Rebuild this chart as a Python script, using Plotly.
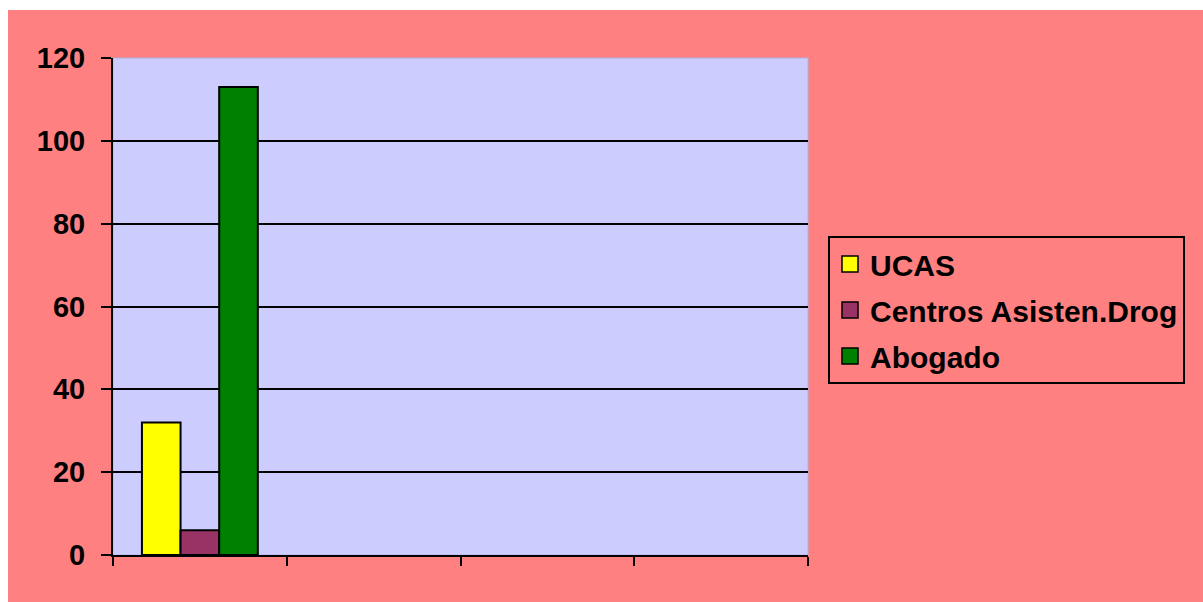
import plotly.graph_objects as go

categories = ["1", "2", "3", "4"]
series_names = ["UCAS", "Centros Asisten.Drog", "Abogado"]
ucas = [32, None, None, None]
centros = [6, None, None, None]
abogado = [113, None, None, None]
series_values = [ucas, centros, abogado]
series_colors = ["#FFFF00", "#993366", "#008000"]
y_ticks = [0, 20, 40, 60, 80, 100, 120]
grid_vals = [20, 40, 60, 80, 100]

W, H = 1203, 602
ML, MT = 113, 58
PLOT_R, PLOT_B = 808, 555
MR, MB = W - PLOT_R, H - PLOT_B
pw, ph = W - ML - MR, H - MT - MB

def px2x(p):
    return (p - ML) / pw

def px2y(p):
    return (H - MB - p) / ph

FONT = "Liberation Sans, Arial, sans-serif"

fig = go.Figure()
for name, vals, col in zip(series_names, series_values, series_colors):
    fig.add_trace(go.Bar(x=categories, y=vals, name=name, showlegend=False,
                         marker=dict(color=col, line=dict(color="black", width=2))))
for i, (name, col) in enumerate(zip(series_names, series_colors)):
    fig.add_trace(go.Scatter(x=[None], y=[None], mode="markers", name=name,
                             legendgroup=f"g{i}",
                             marker=dict(symbol="square", size=20, color=col,
                                         line=dict(color="black", width=1.5))))
# invisible trace on the overlay axis so its grid is drawn
fig.add_trace(go.Scatter(x=[None], y=[None], yaxis="y2", showlegend=False,
                         hoverinfo="skip"))

# white bands on the top and left edges
fig.add_shape(type="rect", xref="paper", yref="paper", layer="below",
              x0=px2x(-5), x1=px2x(W + 5), y0=px2y(10), y1=px2y(-5),
              fillcolor="white", line=dict(width=0))
fig.add_shape(type="rect", xref="paper", yref="paper", layer="below",
              x0=px2x(-5), x1=px2x(8), y0=px2y(H + 5), y1=px2y(-5),
              fillcolor="white", line=dict(width=0))
# plot area background with faint border
fig.add_shape(type="rect", xref="paper", yref="paper", layer="below",
              x0=0, x1=1, y0=0, y1=1,
              fillcolor="#CCCCFF", line=dict(width=1, color="#B0B0E4"))

fig.update_layout(
    width=W, height=H,
    margin=dict(l=ML, r=MR, t=MT, b=MB, autoexpand=False),
    paper_bgcolor="#FF8080",
    plot_bgcolor="#CCCCFF",
    barmode="group", bargap=0.333, bargroupgap=0,
    font=dict(family=FONT, size=30, color="black", weight="bold"),
    legend=dict(x=px2x(828), y=px2y(236), xanchor="left", yanchor="top",
                bgcolor="rgba(0,0,0,0)", bordercolor="black", borderwidth=2,
                tracegroupgap=4, font=dict(family=FONT, size=30, weight="bold")),
    xaxis=dict(type="category", categoryarray=categories, categoryorder="array",
               showticklabels=False, tickson="boundaries", ticks="outside",
               ticklen=9, tickwidth=2, tickcolor="black",
               showline=True, linecolor="black", linewidth=2,
               showgrid=False, zeroline=False, range=[-0.5, 3.5]),
    yaxis=dict(range=[0, 120], tickvals=y_ticks, ticks="outside", ticklen=10,
               tickwidth=2, tickcolor="black", ticklabelstandoff=10,
               showline=True, linecolor="black", linewidth=2,
               showgrid=False, zeroline=False,
               tickfont=dict(family=FONT, size=29, weight="bold")),
    yaxis2=dict(overlaying="y", range=[0, 120], tickvals=grid_vals,
                showticklabels=False, ticks="", showline=False,
                showgrid=True, gridcolor="black", gridwidth=1.5, zeroline=False),
)

fig.write_html(
    "out.html",
    config={"displayModeBar": False},
    post_script="document.body.style.margin='0';"
                "document.documentElement.style.overflow='hidden';"
                "document.body.style.overflow='hidden';",
)
